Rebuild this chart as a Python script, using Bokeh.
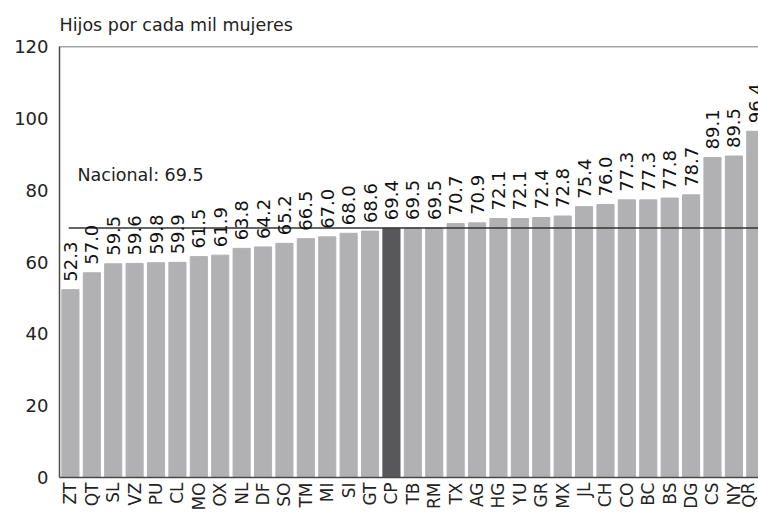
from bokeh.plotting import figure
from bokeh.models import (Range1d, FixedTicker, Span, Label, ColumnDataSource)
from bokeh.core.properties import value
from bokeh.embed import file_html
from bokeh.resources import INLINE

# ---- data ----
states = ["ZT", "QT", "SL", "VZ", "PU", "CL", "MO", "OX", "NL", "DF", "SO", "TM",
          "MI", "SI", "GT", "CP", "TB", "RM", "TX", "AG", "HG", "YU", "GR", "MX",
          "JL", "CH", "CO", "BC", "BS", "DG", "CS", "NY", "QR"]
rates = [52.3, 57.0, 59.5, 59.6, 59.8, 59.9, 61.5, 61.9, 63.8, 64.2, 65.2, 66.5,
         67.0, 68.0, 68.6, 69.4, 69.5, 69.5, 70.7, 70.9, 72.1, 72.1, 72.4, 72.8,
         75.4, 76.0, 77.3, 77.3, 77.8, 78.7, 89.1, 89.5, 96.4]
highlight = "CP"
national = 69.5
y_ticks = [0, 20, 40, 60, 80, 100, 120]
title_text = "Hijos por cada mil mujeres"
national_text = "Nacional: 69.5"

FONT = "DejaVu Sans"
LIGHT = "#b1b1b3"
DARK = "#58585a"
AXIS = "#4a4a4a"

idx = list(range(len(states)))
colors = [DARK if s == highlight else LIGHT for s in states]
labels = [f"{v:.1f}" for v in rates]
src = ColumnDataSource(dict(x=idx, top=rates, color=colors, label=labels))

x_start, x_end = -0.51, 32.15
y_max = y_ticks[-1]

p = figure(width=758, height=515, output_backend="svg", toolbar_location=None,
           x_range=Range1d(x_start, x_end), y_range=Range1d(0, y_max),
           min_border_left=59, min_border_right=0, min_border_top=46,
           min_border_bottom=38)
p.title.text = title_text
p.title.text_font = FONT
p.title.text_font_size = "17.5px"
p.title.text_font_style = "normal"
p.title.text_color = "#222222"
p.title.align = "left"
p.title.standoff = 24

p.outline_line_color = None
p.background_fill_color = "white"
p.border_fill_color = "white"
p.xgrid.visible = False
p.ygrid.visible = False

p.vbar(x="x", top="top", width=0.8, bottom=0, color="color", source=src)

p.segment(x0=[-0.08], y0=[national], x1=[x_end], y1=[national],
          line_color="#333333", line_width=1.5)

p.text(x="x", y="top", text="label", source=src, angle=1.5708,
       text_align="left", text_baseline="middle", y_offset=-8,
       text_font=value(FONT), text_font_size="18px", text_color="#111111")

p.add_layout(Label(x=0.33, y=84.3, text=national_text, text_font=FONT,
                   text_font_size="17.5px", text_align="left",
                   text_baseline="middle", text_color="#222222"))

# top border line of the frame
p.add_layout(Span(location=y_max, dimension="width", line_color=AXIS,
                  line_width=1.5))

# y axis
p.yaxis.ticker = FixedTicker(ticks=y_ticks)
p.yaxis.major_tick_line_color = None
p.yaxis.minor_tick_line_color = None
p.yaxis.major_tick_out = 0
p.yaxis.major_label_standoff = 11
p.yaxis.major_label_text_font = FONT
p.yaxis.major_label_text_font_size = "18px"
p.yaxis.major_label_text_color = "#222222"
p.yaxis.axis_line_color = AXIS
p.yaxis.axis_line_width = 1.5

# x axis
p.xaxis.ticker = FixedTicker(ticks=idx)
p.xaxis.major_label_overrides = {i: s for i, s in zip(idx, states)}
p.xaxis.major_label_orientation = 1.5708
p.xaxis.major_tick_line_color = None
p.xaxis.minor_tick_line_color = None
p.xaxis.major_tick_out = 0
p.xaxis.major_label_standoff = 5
p.xaxis.major_label_text_font = FONT
p.xaxis.major_label_text_font_size = "17px"
p.xaxis.major_label_text_color = "#222222"
p.xaxis.axis_line_color = AXIS
p.xaxis.axis_line_width = 1.5

open("out.html", "w").write(file_html(p, INLINE))
